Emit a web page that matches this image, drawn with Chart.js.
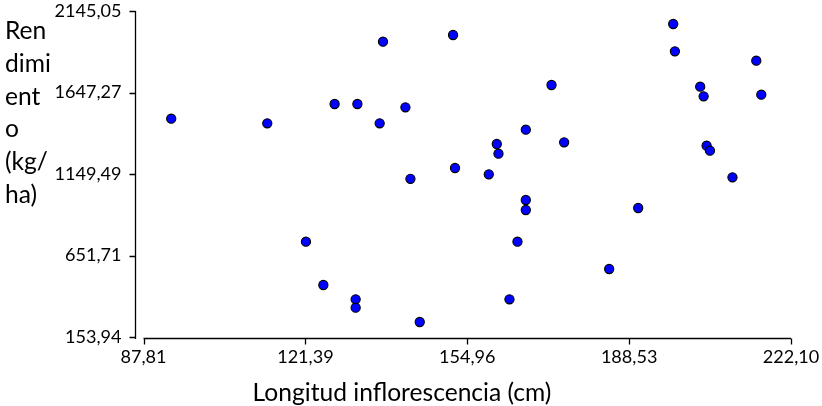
<!DOCTYPE html>
<html>
<head>
<meta charset="utf-8">
<script src="https://cdn.jsdelivr.net/npm/chart.js@4.4.1/dist/chart.umd.min.js"></script>
<style>
  html, body { margin: 0; padding: 0; background: #fff; }
</style>
</head>
<body>
<canvas id="scatter-chart" width="822" height="406"></canvas>
<script>
const longitud = [93.56, 113.48, 121.50, 125.11, 127.45, 131.81, 131.81, 132.17, 136.79, 137.48,
                  142.13, 143.17, 145.10, 152.01, 152.42, 159.42, 161.08, 161.43, 163.71, 165.37,
                  167.10, 167.10, 167.10, 172.43, 175.05, 184.39, 190.41, 197.67, 198.02, 203.27,
                  203.98, 204.60, 205.29, 209.96, 214.90, 215.94];
const rendimiento = [1487.3, 1459.2, 736.0, 471.6, 1577.0, 384.2, 332.9, 1577.0, 1459.2, 1957.5,
                     1556.9, 1120.2, 245.6, 1998.5, 1186.2, 1147.7, 1332.7, 1273.5, 384.2, 736.0,
                     1420.1, 990.7, 929.6, 1693.1, 1343.1, 569.3, 941.8, 2065.6, 1898.9, 1682.7,
                     1624.1, 1322.4, 1291.8, 1129.3, 1841.5, 1633.8];
const xTicks = [87.81, 121.39, 154.96, 188.53, 222.10];
const yTicks = [153.94, 651.71, 1149.49, 1647.27, 2145.05];
const xTitle = "Longitud inflorescencia (cm)";
const yTitleLines = ["Ren", "dimi", "ent", "o", "(kg/", "ha)"];

const fmt = v => v.toFixed(2).replace('.', ',');
const FONT = 'Lato';

// pick a font size so a string comes out about as wide as in the original
function fitSize(text, width) {
  const c = document.createElement('canvas').getContext('2d');
  c.font = '100px ' + FONT;
  return 100 * width / c.measureText(text).width;
}
const tickSize = fitSize('2145,05', 67);
const titleSize = fitSize(xTitle, 299);

// excel style axes: y line sits left of the plot, x line just under it
const axisLines = {
  id: 'axisLines',
  afterDraw(chart) {
    const {ctx, chartArea, scales: {x, y}} = chart;
    ctx.save();
    ctx.strokeStyle = '#000';
    ctx.lineWidth = 1.3;
    ctx.beginPath();
    const ax = Math.round(chartArea.left - 9) + 0.5;
    ctx.moveTo(ax, Math.round(y.getPixelForValue(yTicks[yTicks.length - 1])));
    ctx.lineTo(ax, Math.round(y.getPixelForValue(yTicks[0])) + 2);
    yTicks.forEach(v => {
      const py = Math.round(y.getPixelForValue(v)) + 0.5;
      ctx.moveTo(ax - 6, py);
      ctx.lineTo(ax, py);
    });
    const ay = Math.round(chartArea.bottom + 1) + 0.5;
    ctx.moveTo(x.getPixelForValue(xTicks[0]), ay);
    ctx.lineTo(x.getPixelForValue(xTicks[xTicks.length - 1]), ay);
    xTicks.forEach(v => {
      const px = Math.round(x.getPixelForValue(v)) + 0.5;
      ctx.moveTo(px, ay);
      ctx.lineTo(px, ay + 6);
    });
    ctx.stroke();

    ctx.fillStyle = '#000';
    ctx.font = titleSize + 'px ' + FONT;
    ctx.textAlign = 'center';
    ctx.textBaseline = 'alphabetic';
    ctx.fillText(xTitle, 402, 401);
    ctx.textAlign = 'left';
    yTitleLines.forEach((t, i) => ctx.fillText(t, 5, 39 + i * 32.8));
    ctx.restore();
  }
};

const scatter = new Chart(document.getElementById('scatter-chart').getContext('2d'), {
  type: 'scatter',
  data: {
    datasets: [{
      data: longitud.map((v, i) => ({x: v, y: rendimiento[i]})),
      backgroundColor: '#0000ff',
      borderColor: '#000',
      borderWidth: 1.1,
      pointRadius: 4.6,
      pointHoverRadius: 4.6
    }]
  },
  options: {
    responsive: false,
    animation: false,
    events: [],
    layout: { padding: { left: 0, right: 31, top: 11, bottom: 0 } },
    plugins: { legend: { display: false }, tooltip: { enabled: false } },
    scales: {
      x: {
        type: 'linear',
        min: xTicks[0],
        max: xTicks[xTicks.length - 1],
        afterBuildTicks: s => { s.ticks = xTicks.map(v => ({value: v})); },
        afterFit: s => { s.height = 69; s.paddingLeft = 0; s.paddingRight = 0; },
        grid: { display: false, drawTicks: false },
        border: { display: false },
        ticks: {
          padding: 9,
          color: '#000',
          font: { family: FONT, size: tickSize },
          maxRotation: 0,
          autoSkip: false,
          callback: v => fmt(v)
        }
      },
      y: {
        type: 'linear',
        min: yTicks[0],
        max: yTicks[yTicks.length - 1],
        afterBuildTicks: s => { s.ticks = yTicks.map(v => ({value: v})); },
        afterFit: s => { s.width = 143.5; s.paddingTop = 0; s.paddingBottom = 0; },
        grid: { display: false, drawTicks: false },
        border: { display: false },
        ticks: {
          padding: 22,
          color: '#000',
          font: { family: FONT, size: tickSize },
          autoSkip: false,
          callback: v => fmt(v)
        }
      }
    }
  },
  plugins: [axisLines]
});
</script>
</body>
</html>
